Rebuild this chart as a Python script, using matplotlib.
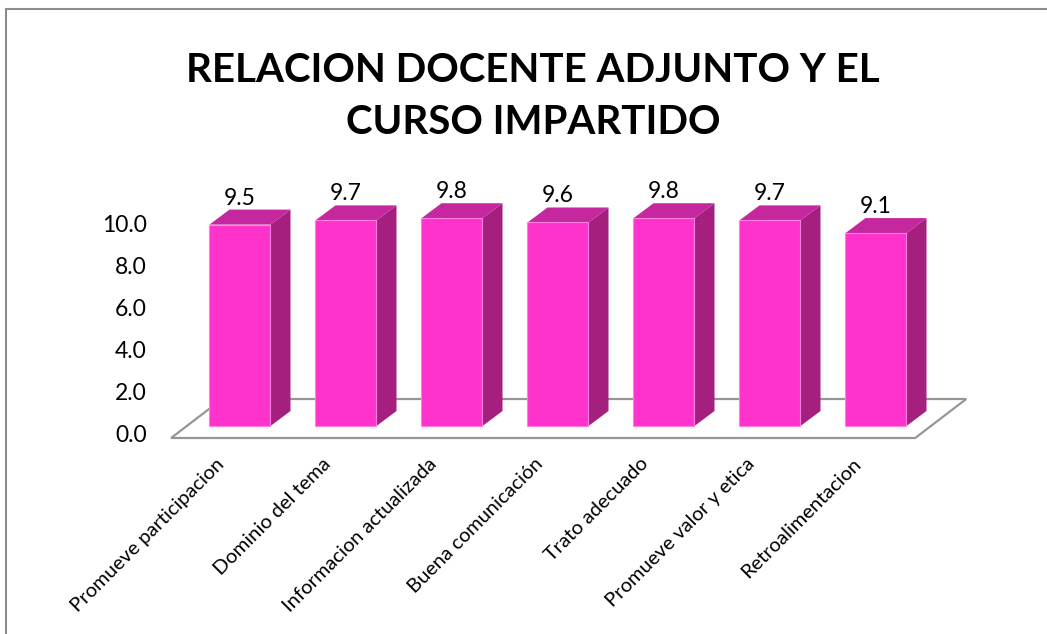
import matplotlib.pyplot as plt
from matplotlib.patches import Polygon, Rectangle
import numpy as np

# chart data
categories = ["Promueve participacion", "Dominio del tema", "Informacion actualizada",
              "Buena comunicación", "Trato adecuado", "Promueve valor y etica",
              "Retroalimentacion"]
values = [9.5, 9.7, 9.8, 9.6, 9.8, 9.7, 9.1]
value_labels = ["9.5", "9.7", "9.8", "9.6", "9.8", "9.7", "9.1"]
y_ticks = [0, 2, 4, 6, 8, 10]
title = "RELACION DOCENTE ADJUNTO Y EL\nCURSO IMPARTIDO"

plt.rcParams['font.family'] = ['Lato', 'DejaVu Sans']

W, H = 1047, 634
fig = plt.figure(figsize=(W / 100, H / 100), dpi=100)
ax = fig.add_axes([0, 0, 1, 1])

# one bar slot = 106 px, one value unit = 21.2 px, bar base at y=426 px
px_x, px_y = 106.0, 21.2
ax.set_xlim(-240 / px_x, (W - 240) / px_x)
ax.set_ylim((426 - H) / px_y, 426 / px_y)
ax.axis("off")

n = len(categories)
x = np.arange(n)
bw = 61 / px_x
dx, dy = 20 / px_x, 15 / px_y          # bar depth
front_col, side_col, top_col = "#FF33CC", "#A51F7E", "#C4279E"

# floor
f_front = -12 / px_y
f_dx, f_dy = 51 / px_x, 39 / px_y
fl, fr = -0.65, n - 1 + 0.37
floor = Polygon([(fl, f_front), (fr, f_front), (fr + f_dx, f_front + f_dy),
                 (fl + f_dx, f_front + f_dy)], closed=True,
                facecolor="white", edgecolor="#969696", lw=1.6, zorder=1)
ax.add_patch(floor)

# bars
ax.bar(x, values, width=bw, color=front_col, edgecolor="#FF7FE3", lw=0.8, zorder=3)
for xi, v in zip(x, values):
    r, l = xi + bw / 2, xi - bw / 2
    ax.add_patch(Polygon([(r, 0), (r + dx, dy), (r + dx, v + dy), (r, v)],
                         closed=True, facecolor=side_col, edgecolor="none", zorder=2))
    ax.add_patch(Polygon([(l, v), (l + dx, v + dy), (r + dx, v + dy), (r, v)],
                         closed=True, facecolor=top_col, edgecolor="none", zorder=2))

# value labels
for xi, v, s in zip(x, values, value_labels):
    ax.text(xi, v + dy + 0.05, s, ha="center", va="bottom", fontsize=16.5, color="black")

# y tick labels (drawn on the floor's front edge)
for t in y_ticks:
    ax.text(-0.88, t * 21 / px_y + f_front + 2 / px_y, f"{t:.1f}", ha="right", va="center",
            fontsize=16.5, color="black")

# category labels
for xi, c in zip(x, categories):
    ax.text(xi - 0.17, -1.65, c, rotation=45, rotation_mode="anchor",
            ha="right", va="center", fontsize=14.5, color="black")

# title
fig.text(533 / W, 1 - 97 / H, title, ha="center", va="center", fontsize=29,
         fontweight="bold", linespacing=1.5)

# chart border
fig.patches.append(Rectangle((6 / W, -0.1), 1.2, 1.1 - 9 / H, transform=fig.transFigure,
                             fill=False, edgecolor="#8C8C8C", lw=1.5))

fig.savefig("out.png", dpi=100, facecolor="white")
